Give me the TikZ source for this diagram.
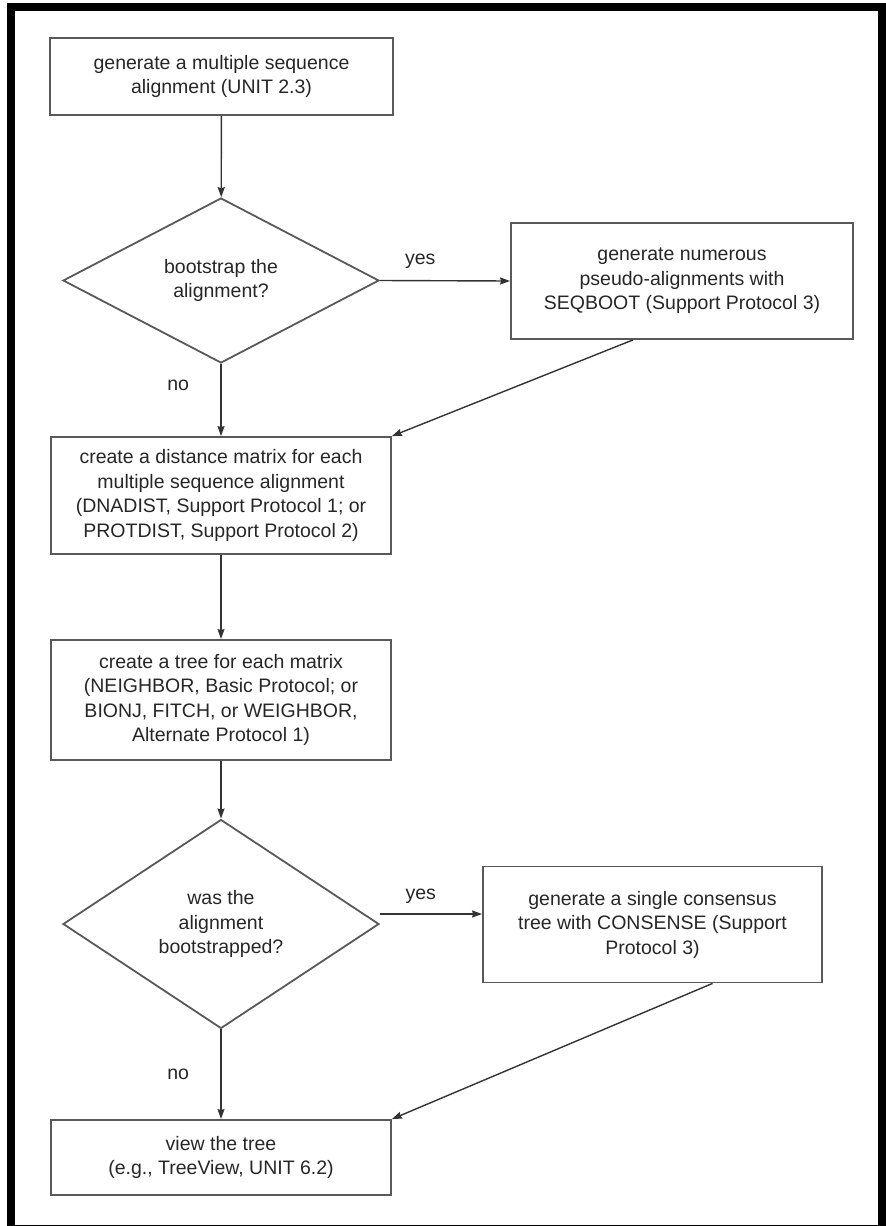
\documentclass[tikz,border=0pt]{standalone}
\usepackage{fontspec}
\setmainfont{Liberation Sans}
\usetikzlibrary{shapes.geometric,arrows.meta}

\begin{document}
\begin{tikzpicture}[x=1pt,y=-1pt,
    font=\fontsize{19.5}{24.5}\selectfont,
    box/.style={draw=black!65,line width=1.8pt,align=center,inner sep=0pt,text=black!85},
    decision/.style={diamond,draw=black!65,line width=1.8pt,align=center,inner sep=0pt,text=black!85},
    flow/.style={draw=black!80,line width=1.4pt,-{Stealth[length=10pt,width=7pt,inset=1pt]}},
    lbl/.style={text=black!85}]
  \useasboundingbox (0,0) rectangle (886,1226);
  \draw[line width=8pt] (11,7) rectangle (882,1229);

  % left column
  \node[box,minimum width=343pt,minimum height=77pt](msa) at (221.5,76.5)
    {generate a multiple sequence\\alignment (UNIT 2.3)};
  \node[decision,minimum width=316pt,minimum height=165pt,aspect=1.9](boot) at (221,280.5)
    {bootstrap the\\alignment?};
  \node[box,minimum width=340pt,minimum height=117pt](dist) at (221,495.5)
    {create a distance matrix for each\\multiple sequence alignment\\(DNADIST, Support Protocol 1; or\\PROTDIST, Support Protocol 2)};
  \node[box,minimum width=340pt,minimum height=120pt](tree) at (221,700)
    {create a tree for each matrix\\(NEIGHBOR, Basic Protocol; or\\BIONJ, FITCH, or WEIGHBOR,\\Alternate Protocol 1)};
  \node[decision,minimum width=316pt,minimum height=209pt,aspect=1.5](wasboot) at (221,924)
    {was the\\alignment\\bootstrapped?};
  \node[box,minimum width=340pt,minimum height=75pt](view) at (221,1157.5)
    {view the tree\\(e.g., TreeView, UNIT 6.2)};

  % right column
  \node[box,minimum width=342pt,minimum height=116pt](seqboot) at (682,281)
    {generate numerous\\pseudo-alignments with\\SEQBOOT (Support Protocol 3)};
  \node[box,minimum width=339pt,minimum height=116pt](consense) at (652.5,924.5)
    {generate a single consensus\\tree with CONSENSE (Support\\Protocol 3)};

  % connectors
  \draw[flow] (msa) -- (boot);
  \draw[flow] (boot.east) -- (seqboot.west) node[lbl,pos=0.31,above=8pt]{yes};
  \draw[flow] (boot) -- (dist) node[lbl,pos=0.3,left=28pt]{no};
  \draw[flow] ([xshift=-49pt]seqboot.south) -- (dist.north east);
  \draw[flow] (dist) -- (tree);
  \draw[flow] (tree) -- (wasboot);
  \draw[flow] ([yshift=10pt]wasboot.east) -- ([yshift=10pt]wasboot.east -| consense.west)
    node[lbl,pos=0.4,above=6pt]{yes};
  \draw[flow] (wasboot) -- (view) node[lbl,midway,left=28pt]{no};
  \draw[flow] ([xshift=60pt]consense.south) -- (view.north east);
\end{tikzpicture}
\end{document}
